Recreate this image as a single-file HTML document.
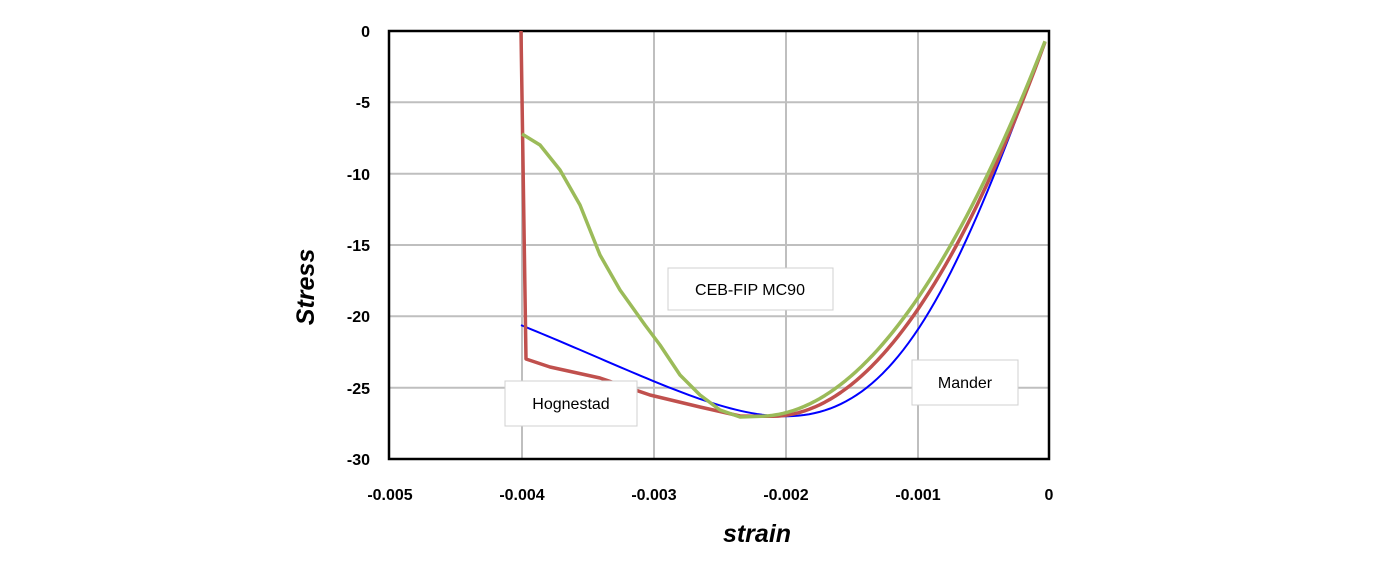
<!DOCTYPE html><html><head><style>body{margin:0;background:#fff}</style></head><body>
<svg id="s" width="1384" height="562" xmlns="http://www.w3.org/2000/svg" font-family="Liberation Sans, sans-serif">
<g stroke="#bfbfbf" stroke-width="2">
<line x1="522" y1="31" x2="522" y2="459"/><line x1="654" y1="31" x2="654" y2="459"/><line x1="786" y1="31" x2="786" y2="459"/><line x1="918" y1="31" x2="918" y2="459"/>
<line x1="389" y1="102.3" x2="1049" y2="102.3"/><line x1="389" y1="173.7" x2="1049" y2="173.7"/><line x1="389" y1="245" x2="1049" y2="245"/><line x1="389" y1="316.3" x2="1049" y2="316.3"/><line x1="389" y1="387.7" x2="1049" y2="387.7"/>
</g>
<rect x="389" y="31" width="660" height="428" fill="none" stroke="#000" stroke-width="2.5"/>
<g font-size="16" font-weight="bold" text-anchor="end" fill="#000">
<text x="370" y="37">0</text><text x="370" y="108">-5</text><text x="370" y="180">-10</text><text x="370" y="251">-15</text><text x="370" y="322">-20</text><text x="370" y="394">-25</text><text x="370" y="465">-30</text>
</g>
<g font-size="16" font-weight="bold" text-anchor="middle" fill="#000">
<text x="390" y="500">-0.005</text><text x="522" y="500">-0.004</text><text x="654" y="500">-0.003</text><text x="786" y="500">-0.002</text><text x="918" y="500">-0.001</text><text x="1049" y="500">0</text>
</g>
<text x="757" y="542" font-size="25" font-weight="bold" font-style="italic" text-anchor="middle">strain</text>
<text transform="translate(314,287) rotate(-90)" font-size="25" font-weight="bold" font-style="italic" text-anchor="middle">Stress</text>
<polyline id="b" fill="none" stroke="#0000ff" stroke-width="2"/>
<polyline id="r" fill="none" stroke="#c0504d" stroke-width="3.5" stroke-linejoin="round"/>
<polyline id="g" fill="none" stroke="#9bbb59" stroke-width="3.5" stroke-linejoin="round"/>
<g font-size="16" fill="#000" font-family="Liberation Sans, DejaVu Sans, sans-serif">
<rect x="668" y="268" width="165" height="42" fill="#fff" stroke="#d0d0d0"/><text x="750" y="295" text-anchor="middle">CEB-FIP MC90</text>
<rect x="505" y="381" width="132" height="45" fill="#fff" stroke="#d0d0d0"/><text x="571" y="409" text-anchor="middle">Hognestad</text>
<rect x="912" y="360" width="106" height="45" fill="#fff" stroke="#d0d0d0"/><text x="965" y="388" text-anchor="middle">Mander</text>
</g>
</svg>
<script>
function X(e){return 1049+132000*e}function Y(s){return 31-14.27*s}
var b=[],r=[],g=[];
for(var i=0;i<=100;i++){var e=-0.00003-(0.00397)*i/100;
var x=e/-0.002,rr=2.18;b.push(X(e)+","+Y(-27*x*rr/(rr-1+Math.pow(x,rr))));
if(e>=-0.0022){var n=e/-0.0022,k=1.955;g.push(X(e)+","+Y(-27*(k*n-n*n)/(1+(k-2)*n)));}
if(e>=-0.0021){var q=e/-0.0021;r.push(X(e)+","+Y(-27*(2*q-q*q)));}}
g=g.concat(["740,417","720,410","700,395","680,375","660,345","645,325","620,290","600,255","580,205","560,170","540,145","522,134"]);
r=r.concat(["740,416","700,407","650,395","600,378","550,367","526,359","521,31"]);
document.getElementById("b").setAttribute("points",b.join(" "));
document.getElementById("g").setAttribute("points",g.join(" "));
document.getElementById("r").setAttribute("points",r.join(" "));
</script>
</body></html>
